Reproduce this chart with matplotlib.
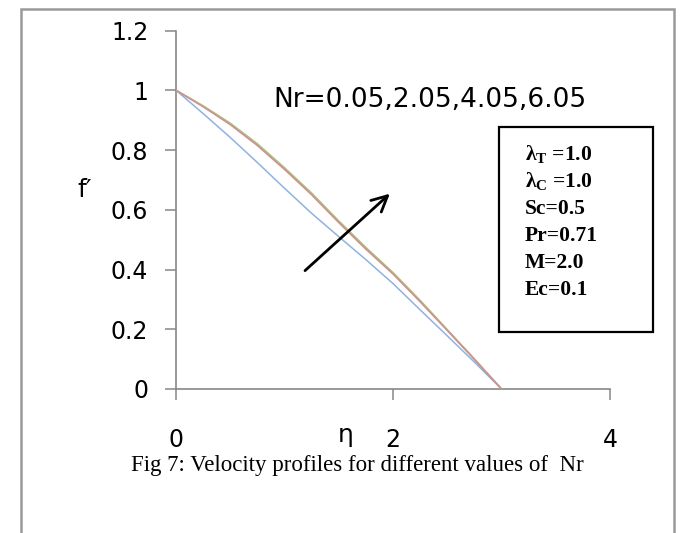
import matplotlib
matplotlib.use('Agg')
import matplotlib.pyplot as plt
import matplotlib.patches as mpatches
from matplotlib import rcParams

rcParams['font.family'] = 'DejaVu Sans'
rcParams['mathtext.fontset'] = 'custom'
rcParams['mathtext.rm'] = 'Liberation Serif:bold'
rcParams['mathtext.bf'] = 'Liberation Serif:bold'

# --- data: f'(eta) for Nr = 0.05, 2.05, 4.05, 6.05 ---
eta = [0.0, 0.25, 0.5, 0.75, 1.0, 1.25, 1.5, 1.75, 2.0, 2.25, 2.5, 2.75, 3.0]
f_nr005 = [1.0, 0.922, 0.842, 0.758, 0.672, 0.588, 0.510, 0.433, 0.353, 0.265, 0.178, 0.090, 0.0]
f_nr205 = [1.0, 0.945, 0.885, 0.815, 0.735, 0.650, 0.557, 0.468, 0.385, 0.292, 0.196, 0.099, 0.0]
f_nr405 = [1.0, 0.946, 0.887, 0.817, 0.737, 0.652, 0.559, 0.470, 0.387, 0.294, 0.197, 0.100, 0.0]
f_nr605 = [1.0, 0.948, 0.890, 0.821, 0.741, 0.656, 0.563, 0.474, 0.390, 0.297, 0.199, 0.101, 0.0]

params = ['λ$_\\mathrm{T}$ =1.0', 'λ$_\\mathrm{C}$ =1.0', 'Sc=0.5',
          'Pr=0.71', 'M=2.0', 'Ec=0.1']

GRAY = '#888888'

fig = plt.figure(figsize=(6.87, 5.33), dpi=100)
ax = fig.add_axes([176 / 687, 144 / 533, 434 / 687, 358.5 / 533])

ax.plot(eta, f_nr005, color='#8DB3E2', lw=1.1, zorder=3)
ax.plot(eta, f_nr405, color='#A08CB8', lw=1.1, zorder=3)
ax.plot(eta, f_nr605, color='#A9C47F', lw=1.1, zorder=3)
ax.plot(eta, f_nr205, color='#D4908C', lw=1.1, zorder=4)

ax.set_xlim(0, 4)
ax.set_ylim(0, 1.2)
ax.set_xticks([0, 2, 4])
ax.set_xticklabels(['0', '2', '4'])
ax.set_yticks([0, 0.2, 0.4, 0.6, 0.8, 1.0, 1.2])
ax.set_yticklabels(['0', '0.2', '0.4', '0.6', '0.8', '1', '1.2'])
ax.tick_params(axis='x', direction='out', length=8, width=1.1, color=GRAY,
               labelsize=17, pad=20)
ax.tick_params(axis='y', direction='out', length=8, width=1.1, color=GRAY,
               labelsize=17, pad=12)

for s in ['top', 'right']:
    ax.spines[s].set_visible(False)
for s in ['left', 'bottom']:
    ax.spines[s].set_color(GRAY)
    ax.spines[s].set_linewidth(1.2)

# axis titles sit inside the tick-label band
ax.text(1.56, -0.155, 'η', fontsize=18, ha='center', va='center', clip_on=False)
fig.text(85 / 687, 1 - 190 / 533, 'f′', fontsize=18, ha='center', va='center')

ax.text(2.34, 0.967, 'Nr=0.05,2.05,4.05,6.05', fontsize=19, ha='center', va='center')

# arrow: direction of increasing Nr
ax.annotate('', xy=(1.99, 0.66), xytext=(1.17, 0.39),
            arrowprops=dict(arrowstyle='->', color='black', lw=2,
                            mutation_scale=28), zorder=5)

# parameter box
box = mpatches.Rectangle((499 / 687, 1 - 332 / 533), 154 / 687, 205 / 533,
                         transform=fig.transFigure, fill=False,
                         edgecolor='black', lw=1.6)
fig.patches.append(box)
for i, p in enumerate(params):
    fig.text(525 / 687, 1 - (155 + 27 * i) / 533, p, family='Liberation Serif',
             fontweight='bold', fontsize=15.5, ha='left', va='center')

fig.text(357 / 687, 1 - 465 / 533,
         'Fig 7: Velocity profiles for different values of  Nr',
         family='Liberation Serif', fontsize=16.5, ha='center', va='center')

# outer frame
frame = mpatches.Rectangle((21 / 687, -0.1), 653 / 687, 1.1 - 9 / 533,
                           transform=fig.transFigure, fill=False,
                           edgecolor='#999999', lw=1.8)
fig.patches.append(frame)

fig.savefig('out.png', dpi=100)
